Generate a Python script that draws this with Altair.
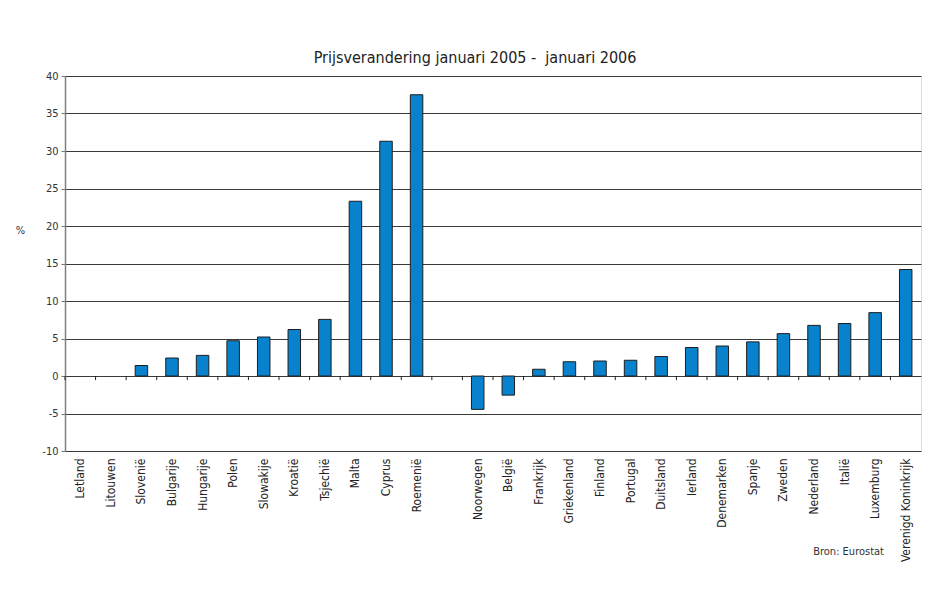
import altair as alt
import pandas as pd

countries = ["Letland", "Litouwen", "Slovenië", "Bulgarije", "Hungarije", "Polen",
             "Slowakije", "Kroatië", "Tsjechië", "Malta", "Cyprus", "Roemenië",
             " ",
             "Noorwegen", "België", "Frankrijk", "Griekenland", "Finland", "Portugal",
             "Duitsland", "Ierland", "Denemarken", "Spanje", "Zweden", "Nederland",
             "Italië", "Luxemburg", "Verenigd Koninkrijk"]
values = [None, None, 1.4, 2.4, 2.75, 4.7, 5.2, 6.2, 7.55, 23.3, 31.3, 37.5,
          None,
          -4.45, -2.55, 0.9, 1.9, 2.0, 2.1, 2.6, 3.8, 4.0, 4.55, 5.65, 6.75,
          7.0, 8.45, 14.2]
y_ticks = list(range(-10, 41, 5))

TITLE = "Prijsverandering januari 2005 -\u00a0 januari 2006"
SOURCE = "Bron: Eurostat"
FONT = "DejaVu Sans Condensed, Liberation Sans Narrow, DejaVu Sans, sans-serif"

df = pd.DataFrame({"land": countries, "pct": values})
ticks_df = pd.DataFrame({"land": countries, "pct": [0] * len(countries),
                         "t1": [-0.55] * len(countries)})

W, H = 856, 375
x_scale = alt.Scale(domain=countries, paddingInner=0, paddingOuter=0)
y_scale = alt.Scale(domain=[-10, 40], nice=False)

x_axis = alt.Axis(title=None, orient="bottom", labelAngle=-90, labelAlign="right",
                  labelBaseline="middle", labelPadding=7, ticks=False,
                  domain=False, grid=False, labelFont=FONT, labelFontSize=12,
                  labelColor="#222")
y_axis = alt.Axis(values=y_ticks, title="%", titleAngle=0, titleX=-45, titleY=154,
                  titleAlign="center", titleBaseline="middle",
                  titleFont=FONT, titleFontSize=11, titleFontWeight="normal",
                  titleColor="#333",
                  labelExpr="toString(datum.value)",
                  labelFont=FONT, labelFontSize=11, labelColor="#333",
                  labelPadding=3, tickSize=4, tickColor="#777",
                  domainColor="#808080", domainWidth=1.5,
                  gridColor="#3a3a3a", gridWidth=1)

bars = alt.Chart(df).mark_bar(size=12.5, color="#0882cc", stroke="#1e1e1e",
                              strokeWidth=1).encode(
    x=alt.X("land:N", sort=countries, scale=x_scale, axis=x_axis),
    y=alt.Y("pct:Q", scale=y_scale, axis=y_axis),
)

zero_ticks = alt.Chart(ticks_df).mark_rule(color="#222", strokeWidth=1).encode(
    x=alt.X("land:N", sort=countries, scale=x_scale, bandPosition=0, axis=x_axis),
    y=alt.Y("pct:Q", scale=y_scale, axis=y_axis),
    y2="t1:Q",
)

source = alt.Chart(pd.DataFrame({"t": [SOURCE]})).mark_text(
    align="right", baseline="middle", font=FONT, fontSize=11, color="#333"
).encode(text="t:N", x=alt.value(819), y=alt.value(476))

chart = alt.layer(bars, zero_ticks, source).properties(
    width=W, height=H,
    title=alt.Title(TITLE, anchor="middle", dx=-18, offset=4, font=FONT, fontSize=16,
                    fontWeight="normal", color="#222"),
    autosize=alt.AutoSizeParams(type="none"),
    padding={"left": 57, "top": 68, "right": 15, "bottom": 148},
).configure_view(stroke="#808080", strokeWidth=1.5).configure(background="white")

chart.save("out.html", embed_options={"renderer": "svg", "actions": False})
